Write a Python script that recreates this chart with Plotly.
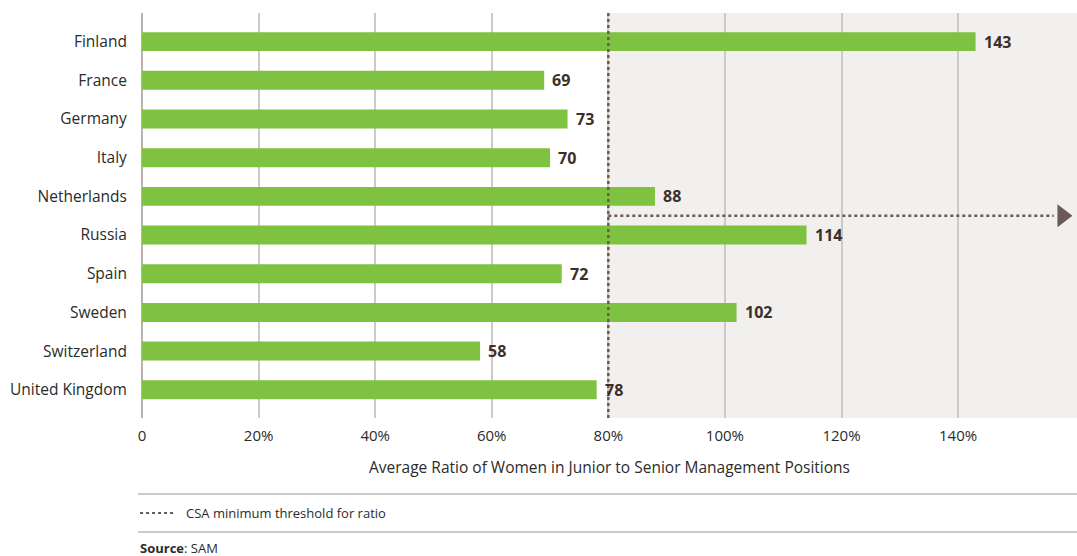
import plotly.graph_objects as go

countries = ["Finland", "France", "Germany", "Italy", "Netherlands", "Russia",
             "Spain", "Sweden", "Switzerland", "United Kingdom"]
ratios = [143, 69, 73, 70, 88, 114, 72, 102, 58, 78]
tick_vals = [0, 20, 40, 60, 80, 100, 120, 140]
tick_text = ["0", "20%", "40%", "60%", "80%", "100%", "120%", "140%"]
threshold = 80
x_max = 160.4

positions = list(range(len(countries)))
arrow_y = (len(countries) - 1) / 2  # between Netherlands and Russia

FONT = "Open Sans"
GREEN = "#7fc241"
DOT = "#6a5a55"
GRID = "#cdc9c7"
TEXT = "#2b2b2b"

fig = go.Figure()
fig.add_trace(go.Bar(
    y=positions, x=ratios, orientation="h",
    marker=dict(color=GREEN, line=dict(width=0)),
    width=0.49, hoverinfo="skip",
))

# arrow head at the end of the threshold arrow
fig.add_trace(go.Scatter(
    x=[x_max - 2.5], y=[arrow_y], mode="markers",
    marker=dict(symbol="triangle-right", size=20, color=DOT, line=dict(width=0)),
    hoverinfo="skip", cliponaxis=False,
))

shapes = [
    dict(type="rect", xref="x", yref="paper", x0=threshold, x1=x_max, y0=0, y1=1,
         fillcolor="#f2f0ef", line=dict(width=0), layer="below"),
    dict(type="line", xref="x", yref="paper", x0=threshold, x1=threshold, y0=0, y1=1,
         line=dict(color=DOT, width=2.5, dash="dot"), layer="above"),
    dict(type="line", xref="x", yref="y", x0=threshold, x1=x_max - 4, y0=arrow_y, y1=arrow_y,
         line=dict(color=DOT, width=2.5, dash="dot"), layer="above"),
    dict(type="line", xref="paper", yref="paper", x0=-0.0043, x1=1, y0=-0.1877, y1=-0.1877,
         line=dict(color=GRID, width=2)),
    dict(type="line", xref="paper", yref="paper", x0=-0.0043, x1=1, y0=-0.2815, y1=-0.2815,
         line=dict(color=GRID, width=2)),
    dict(type="line", xref="paper", yref="paper", x0=-0.0021, x1=0.0332, y0=-0.2346, y1=-0.2346,
         line=dict(color=DOT, width=2, dash="dot")),
]

annotations = [
    dict(text=str(v), x=v, y=p, xref="x", yref="y", xanchor="left", yanchor="middle",
         xshift=6, showarrow=False,
         font=dict(family=FONT, size=16, color="#3d2e2a", weight="bold"))
    for v, p in zip(ratios, positions)
]
annotations += [
    dict(text="Average Ratio of Women in Junior to Senior Management Positions",
         xref="paper", yref="paper", x=0.5, y=-0.121, xanchor="center", yanchor="middle",
         showarrow=False, font=dict(family=FONT, size=15.5, color=TEXT)),
    dict(text="CSA minimum threshold for ratio",
         xref="paper", yref="paper", x=0.0449, y=-0.2346, xanchor="left", yanchor="middle",
         showarrow=False, font=dict(family=FONT, size=13, color=TEXT)),
    dict(text="<b>Source</b>: SAM",
         xref="paper", yref="paper", x=-0.0043, y=-0.321, xanchor="left", yanchor="middle",
         showarrow=False, font=dict(family=FONT, size=13, color=TEXT)),
]

fig.update_layout(
    width=1077, height=556,
    margin=dict(l=142, r=0, t=13, b=138),
    paper_bgcolor="white", plot_bgcolor="rgba(0,0,0,0)",
    showlegend=False,
    shapes=shapes, annotations=annotations,
    font=dict(family=FONT, color=TEXT),
    xaxis=dict(range=[0, x_max], tickvals=tick_vals, ticktext=tick_text,
               showgrid=True, gridcolor=GRID, gridwidth=1.5,
               zeroline=True, zerolinecolor="#b8b2b0", zerolinewidth=2,
               showline=False, ticks="outside", ticklen=4, tickcolor="rgba(0,0,0,0)",
               tickfont=dict(family=FONT, size=15, color=TEXT), fixedrange=True),
    yaxis=dict(range=[9.73, -0.74], tickvals=positions, ticktext=countries,
               showgrid=False, showline=False, zeroline=False,
               ticks="outside", ticklen=11, tickcolor="rgba(0,0,0,0)",
               tickfont=dict(family=FONT, size=15.5, color=TEXT), fixedrange=True),
)

fig.write_html("out.html")
